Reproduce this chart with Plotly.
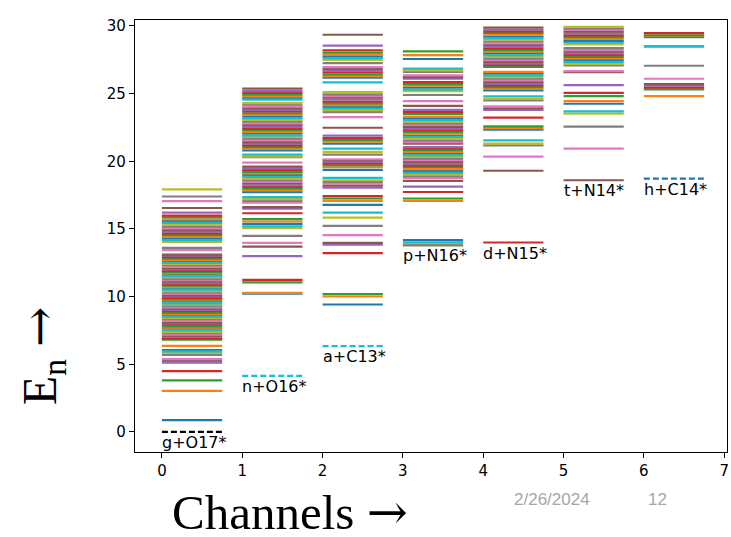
import plotly.graph_objects as go

# Reaction channels and their thresholds
channels = [0, 1, 2, 3, 4, 5, 6]
channel_labels = ["g+O17*", "n+O16*", "a+C13*", "p+N16*", "d+N15*", "t+N14*", "h+C14*"]
thresholds = [0.0, 4.14, 6.34, 13.78, 14.0, 18.6, 18.72]

# Excited levels (MeV) in each channel
levels_ch0 = [0.87, 3.03, 3.81, 4.50, 5.12, 5.27, 5.38, 5.70, 5.84, 5.95, 6.05, 6.36,
              6.82, 6.90, 7.02, 7.12, 7.20, 7.31, 7.40, 7.52, 7.60, 7.71, 7.80, 7.93,
              8.02, 8.10, 8.21, 8.33, 8.42, 8.50, 8.62, 8.71, 8.80, 8.93, 9.02, 9.11,
              9.20, 9.32, 9.41, 9.50, 9.63, 9.72, 9.80, 9.91, 10.02, 10.10, 10.22, 10.31,
              10.40, 10.52, 10.61, 10.70, 10.82, 10.91, 11.00, 11.12, 11.21, 11.30, 11.42,
              11.51, 11.60, 11.72, 11.81, 11.90, 12.02, 12.11, 12.20, 12.32, 12.41, 12.50,
              12.62, 12.71, 12.80, 12.92, 13.02, 13.10, 13.43, 13.60, 14.05, 14.18, 14.30,
              14.42, 14.55, 14.68, 14.80, 14.92, 15.05, 15.18, 15.30, 15.45, 15.58, 15.70,
              15.85, 15.98, 16.20, 16.55, 17.05, 17.40, 17.92]
levels_ch1 = [10.22, 10.28, 11.05, 11.24, 12.99, 13.70, 13.97, 14.49, 15.06, 15.20, 15.37,
              15.55, 15.72, 16.16, 16.50, 16.62, 16.95, 17.08, 17.20, 17.35, 17.72, 17.85,
              17.98, 18.10, 18.22, 18.36, 18.48, 18.60, 18.72, 18.85, 18.98, 19.10, 19.22,
              19.35, 19.48, 19.60, 19.90, 20.30, 20.36, 20.50, 20.80, 20.92, 21.05, 21.18,
              21.30, 21.42, 21.55, 21.68, 21.80, 21.92, 22.05, 22.18, 22.30, 22.42, 22.55,
              22.68, 22.80, 22.92, 23.05, 23.18, 23.30, 23.42, 23.55, 23.68, 23.80, 23.92,
              24.05, 24.18, 24.30, 24.55, 24.68, 24.80, 24.92, 25.05, 25.18, 25.37]
levels_ch2 = [9.42, 10.01, 10.18, 13.21, 13.85, 13.97, 14.54, 15.23, 15.84, 16.21, 16.78,
              17.07, 17.25, 17.42, 18.06, 18.20, 18.35, 18.48, 18.60, 18.77, 19.36, 19.56,
              19.70, 19.82, 19.95, 20.08, 20.15, 20.50, 20.69, 20.94, 21.30, 21.45, 21.58,
              21.72, 21.90, 22.48, 23.27, 23.64, 23.78, 23.90, 24.02, 24.15, 24.28, 24.40,
              24.55, 24.70, 24.82, 24.95, 25.11, 25.83, 26.18, 26.30, 26.42, 26.58, 26.70,
              26.83, 26.96, 27.26, 27.50, 27.62, 27.75, 27.88, 28.02, 28.19, 28.54, 29.35]
levels_ch3 = [13.88, 14.02, 14.17, 17.07, 17.25, 17.73, 18.13, 18.55, 18.77, 18.90, 19.02,
              19.15, 19.28, 19.42, 19.58, 19.70, 19.82, 19.95, 20.08, 20.20, 20.33, 20.45,
              20.58, 20.70, 20.82, 20.95, 21.05, 21.30, 21.42, 21.55, 21.68, 21.80, 21.90,
              22.05, 22.18, 22.30, 22.42, 22.55, 22.68, 22.80, 22.92, 23.05, 23.18, 23.30,
              23.50, 23.65, 23.80, 24.10, 24.45, 24.90, 25.19, 25.32, 25.45, 25.58, 25.70,
              25.85, 26.10, 26.22, 26.35, 26.60, 26.72, 26.84, 27.56, 27.85, 28.12]
levels_ch4 = [19.30, 20.35, 21.18, 21.30, 21.55, 22.34, 22.45, 22.58, 23.22, 23.80, 23.92,
              24.06, 24.50, 24.62, 24.80, 25.24, 25.36, 25.48, 25.60, 25.72, 25.85, 25.98,
              26.10, 26.22, 26.35, 26.48, 26.60, 26.97, 27.10, 27.22, 27.35, 27.48, 27.60,
              27.72, 27.85, 27.98, 28.10, 28.22, 28.35, 28.48, 28.60, 28.72, 28.85, 28.98,
              29.10, 29.22, 29.35, 29.48, 29.60, 29.72, 29.87]
levels_ch5 = [20.93, 22.56, 23.52, 23.69, 24.25, 24.45, 24.82, 25.05, 25.63, 26.58, 26.66,
              27.08, 27.20, 27.35, 27.48, 27.60, 27.72, 27.85, 27.98, 28.10, 28.22, 28.36,
              28.63, 28.76, 28.90, 29.05, 29.18, 29.30, 29.45, 29.58, 29.70, 29.82, 29.93]
levels_ch6 = [24.82, 25.32, 25.45, 25.58, 25.70, 26.10, 27.06, 28.45, 28.51, 29.18, 29.25,
              29.30, 29.47]

all_levels = [levels_ch0, levels_ch1, levels_ch2, levels_ch3, levels_ch4, levels_ch5, levels_ch6]

# Styling
palette = ["#1f77b4", "#ff7f0e", "#2ca02c", "#d62728", "#9467bd",
           "#8c564b", "#e377c2", "#7f7f7f", "#bcbd22", "#17becf"]
color_offsets = [0, 0, 0, 8, 5, 6, 1]
threshold_colors = ["black", "#17becf", "#17becf", "#7f7f7f", "#d62728", "#8c564b", "#1f77b4"]
threshold_dashes = ["6px,3px", "6px,3px", "6px,3px", "solid", "solid", "solid", "6px,3px"]
seg_len = 0.75

fig = go.Figure()

# One trace per colour: each level is a short horizontal segment
seg_x = {c: [] for c in palette}
seg_y = {c: [] for c in palette}
for ch, levels, off in zip(channels, all_levels, color_offsets):
    for i, e in enumerate(levels):
        col = palette[(i + off) % len(palette)]
        seg_x[col] += [ch, ch + seg_len, None]
        seg_y[col] += [e, e, None]

for col in palette:
    fig.add_trace(go.Scatter(x=seg_x[col], y=seg_y[col], mode="lines",
                             line=dict(color=col, width=2.2), hoverinfo="skip",
                             showlegend=False))

# Channel thresholds
for ch, thr, col, dash in zip(channels, thresholds, threshold_colors, threshold_dashes):
    fig.add_trace(go.Scatter(x=[ch, ch + seg_len], y=[thr, thr], mode="lines",
                             line=dict(color=col, width=2.2, dash=dash),
                             hoverinfo="skip", showlegend=False))

# Channel names beneath their thresholds
for ch, thr, name in zip(channels, thresholds, channel_labels):
    fig.add_annotation(x=ch, y=thr, text=name, xref="x", yref="y",
                       xanchor="left", yanchor="top", showarrow=False,
                       xshift=-2, yshift=1,
                       font=dict(family="DejaVu Sans", size=16, color="black"))

# Axis titles and footer
arrow = '<span style="font-family:DejaVu Serif">→</span>'
fig.add_annotation(text="E<sub>n</sub> " + arrow, xref="paper", yref="paper",
                   x=-0.157, y=0.222, textangle=-90, showarrow=False,
                   xanchor="center", yanchor="middle",
                   font=dict(family="Liberation Serif", size=48, color="black"))
fig.add_annotation(text="Channels " + arrow, xref="paper", yref="paper",
                   x=0.2626, y=-0.141, showarrow=False,
                   xanchor="center", yanchor="middle",
                   font=dict(family="Liberation Serif", size=49, color="black"))
fig.add_annotation(text="2/26/2024", xref="paper", yref="paper",
                   x=0.704, y=-0.111, showarrow=False,
                   xanchor="center", yanchor="middle",
                   font=dict(family="Liberation Sans", size=17, color="#a6a6a6"))
fig.add_annotation(text="12", xref="paper", yref="paper",
                   x=0.882, y=-0.111, showarrow=False,
                   xanchor="center", yanchor="middle",
                   font=dict(family="Liberation Sans", size=17, color="#a6a6a6"))

axis_style = dict(showline=True, linecolor="black", linewidth=1.2, mirror=True,
                  showgrid=False, zeroline=False, ticks="outside", ticklen=5,
                  tickwidth=1.2, tickcolor="black",
                  tickfont=dict(family="DejaVu Sans", size=15, color="black"))

fig.update_layout(
    width=731, height=537,
    margin=dict(l=135, r=2, t=20, b=85),
    paper_bgcolor="white", plot_bgcolor="white",
    xaxis=dict(range=[-0.335, 7.035], tickvals=[0, 1, 2, 3, 4, 5, 6, 7], **axis_style),
    yaxis=dict(range=[-1.48, 30.44], tickvals=[0, 5, 10, 15, 20, 25, 30], **axis_style),
)

fig.write_html("out.html")
